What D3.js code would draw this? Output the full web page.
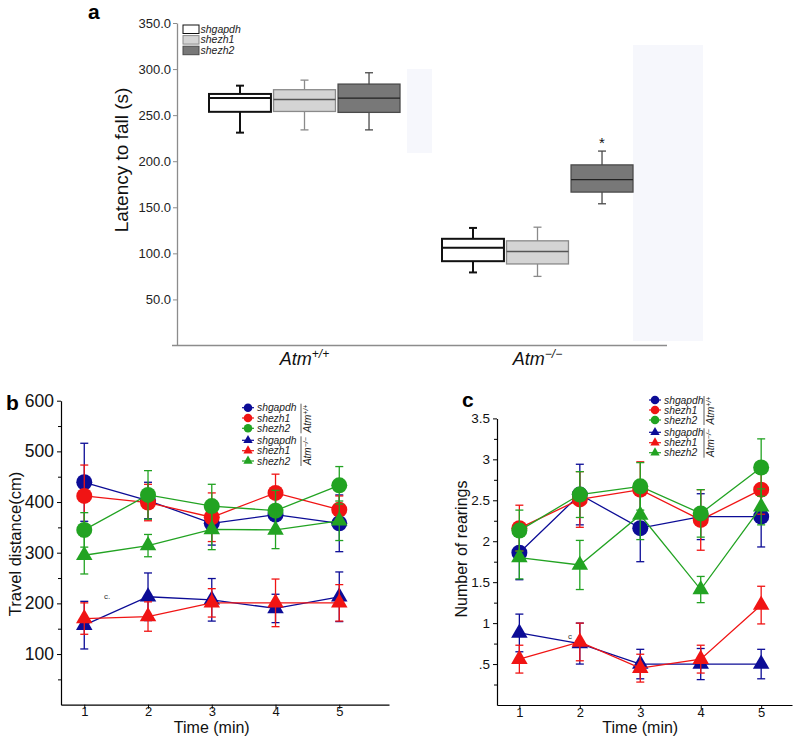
<!DOCTYPE html>
<html>
<head>
<meta charset="utf-8">
<script src="https://cdn.jsdelivr.net/npm/d3@7"></script>
<style>
  body { margin: 0; background: #fff; }
  svg { font-family: "Liberation Sans", Arial, sans-serif; }
</style>
</head>
<body>
<svg id="fig" width="800" height="744"></svg>
<script>
// ---- data ----
const groups = ['Atm+/+', 'Atm-/-'];
const groupSup = ['+/+', '\u2212/\u2212'];
const genes = ['shgapdh', 'shezh1', 'shezh2'];

// latency to fall, boxplots: [whisker low, q1, median, q3, whisker high]
const latencyWt = [[231, 253.6, 268.5, 273, 282], [234, 254, 267, 277.6, 288], [234, 253, 268.5, 283.7, 296]];
const latencyKo = [[79.3, 91.5, 106, 115.8, 127.6], [75, 88.5, 102, 113.6, 128.4], [153.8, 166.5, 180, 196, 211]];
const latencyTicks = [50, 100, 150, 200, 250, 300, 350];

const times = [1, 2, 3, 4, 5];

// travel distance (cm), rows = shgapdh, shezh1, shezh2
const travelWt = [[439, 403, 358, 375, 358], [412, 399, 370, 418, 385], [345, 414, 392, 383, 433]];
const travelWtErr = [[77, 36, 43, 35, 56], [61, 36, 48, 37, 27], [34, 48, 43, 40, 37]];
const travelKo = [[157, 213, 207, 190, 213], [170, 174, 201, 201, 201], [295, 314, 346, 345, 363]];
const travelKoErr = [[47, 47, 42, 28, 49], [31, 29, 28, 47, 36], [37, 22, 40, 37, 39]];
const travelTicks = [100, 200, 300, 400, 500, 600];
const travelMinor = [50, 150, 250, 350, 450, 550];

// number of rearings
const rearWt = [[1.86, 2.57, 2.16, 2.30, 2.30], [2.16, 2.51, 2.63, 2.26, 2.63], [2.13, 2.57, 2.67, 2.34, 2.90]];
const rearWtErr = [[0.33, 0.37, 0.41, 0.28, 0.37], [0.28, 0.34, 0.34, 0.37, 0.30], [0.25, 0.28, 0.29, 0.29, 0.35]];
const rearKo = [[0.88, 0.75, 0.50, 0.50, 0.50], [0.56, 0.77, 0.45, 0.56, 1.22], [1.80, 1.71, 2.32, 1.41, 2.42]];
const rearKoErr = [[0.23, 0.25, 0.18, 0.19, 0.18], [0.17, 0.23, 0.17, 0.17, 0.23], [0.26, 0.30, 0.30, 0.16, 0.22]];
const rearTicks = [0.5, 1, 1.5, 2, 2.5, 3, 3.5];
const rearMinor = [0.25, 0.75, 1.25, 1.75, 2.25, 2.75, 3.25];

const lineColors = ['#0c0c96', '#f01414', '#22a322'];
const boxFill = ['#ffffff', '#d4d4d4', '#787878'];
const boxStroke = ['#111111', '#8a8a8a', '#4a4a4a'];
const boxWidth = [2, 1.3, 1.3];
const medianStroke = ['#111111', '#555555', '#222222'];

const svg = d3.select('#fig');

// ================= panel a =================
// faint scan blotches in the original
svg.append('rect').attr('x', 407).attr('y', 69).attr('width', 25).attr('height', 84).attr('fill', '#f6f7fc');
svg.append('rect').attr('x', 633).attr('y', 45).attr('width', 70).attr('height', 296).attr('fill', '#f6f7fc');

const yA = d3.scaleLinear().domain([0, 350]).range([345.5, 23]);
const xA = d3.scaleBand().domain(groups).range([188, 654]);
const xInner = d3.scaleBand().domain(genes).range([-95.5, 95.5]).paddingInner(0.04);

const axA = svg.append('g')
  .attr('transform', 'translate(177,0)')
  .call(d3.axisLeft(yA).tickValues(latencyTicks).tickSize(4).tickSizeOuter(0).tickPadding(2)
    .tickFormat(d3.format('.1f')));
axA.select('.domain').attr('stroke', '#8c8c8c').attr('stroke-width', 1.3);
axA.selectAll('.tick line').attr('stroke', '#8c8c8c');
axA.selectAll('.tick text').attr('font-size', 13).attr('fill', '#222');

svg.append('line').attr('x1', 172).attr('x2', 667).attr('y1', 345.5).attr('y2', 345.5)
  .attr('stroke', '#8c8c8c').attr('stroke-width', 1.3);

svg.append('text')
  .attr('transform', 'translate(128,160) rotate(-90)')
  .attr('text-anchor', 'middle')
  .attr('font-size', 19)
  .attr('fill', '#111')
  .text('Latency to fall (s)');

groups.forEach((g, gi) => {
  const t = svg.append('text')
    .attr('x', xA(g) + xA.bandwidth() / 2)
    .attr('y', 365)
    .attr('text-anchor', 'middle')
    .attr('font-size', 18)
    .attr('font-style', 'italic')
    .attr('fill', '#111');
  t.append('tspan').text('Atm');
  t.append('tspan').attr('dy', -7).attr('font-size', 12).text(groupSup[gi]);
});

[latencyWt, latencyKo].forEach((set, gi) => {
  const cx0 = xA(groups[gi]) + xA.bandwidth() / 2;
  set.forEach((b, i) => {
    const x0 = cx0 + xInner(genes[i]);
    const w = xInner.bandwidth();
    const xm = x0 + w / 2;
    const g = svg.append('g');
    g.append('line').attr('x1', xm).attr('x2', xm).attr('y1', yA(b[0])).attr('y2', yA(b[4]))
      .attr('stroke', boxStroke[i]).attr('stroke-width', boxWidth[i]);
    [b[0], b[4]].forEach(v => {
      g.append('line').attr('x1', xm - 4).attr('x2', xm + 4).attr('y1', yA(v)).attr('y2', yA(v))
        .attr('stroke', boxStroke[i]).attr('stroke-width', boxWidth[i]);
    });
    g.append('rect').attr('x', x0).attr('y', yA(b[3])).attr('width', w).attr('height', yA(b[1]) - yA(b[3]))
      .attr('fill', boxFill[i]).attr('stroke', boxStroke[i]).attr('stroke-width', boxWidth[i]);
    g.append('line').attr('x1', x0).attr('x2', x0 + w).attr('y1', yA(b[2])).attr('y2', yA(b[2]))
      .attr('stroke', medianStroke[i]).attr('stroke-width', boxWidth[i]);
    if (gi === 1 && i === 2) {
      svg.append('text').attr('x', xm).attr('y', yA(b[4]) - 3).attr('text-anchor', 'middle')
        .attr('font-size', 15).attr('fill', '#111').text('*');
    }
  });
});

// legend a
genes.forEach((name, i) => {
  const y = 25 + i * 10.6;
  svg.append('rect').attr('x', 183).attr('y', y).attr('width', 16).attr('height', 8.5)
    .attr('fill', boxFill[i]).attr('stroke', i === 0 ? '#111' : boxStroke[i]).attr('stroke-width', 1);
  svg.append('text').attr('x', 200.5).attr('y', y + 7.8).attr('font-size', 10.5)
    .attr('font-style', 'italic').attr('fill', '#222').text(name);
});

svg.append('text').attr('x', 88).attr('y', 19).attr('font-size', 21).attr('font-weight', 'bold').text('a');

// ================= line panels =================
function linePanel(p) {
  const g = svg.append('g');
  const ax = g.append('g').attr('transform', `translate(0,${p.y.range()[0]})`)
    .call(d3.axisBottom(p.x).tickValues(times).tickSize(4).tickSizeOuter(0).tickPadding(-1.5)
      .tickFormat(d3.format('d')));
  ax.selectAll('.tick text').attr('font-size', 13).attr('fill', '#111');
  ax.select('.domain').attr('stroke-width', 1.2);

  const ay = g.append('g').attr('transform', `translate(${p.x.range()[0]},0)`)
    .call(d3.axisLeft(p.y).tickValues(p.ticks).tickSize(4).tickSizeOuter(0).tickPadding(3).tickFormat(p.fmt));
  ay.selectAll('.tick text').attr('font-size', p.tickFont).attr('fill', '#111');
  ay.select('.domain').attr('stroke-width', 1.2);
  g.append('g').attr('transform', `translate(${p.x.range()[0]},0)`)
    .call(d3.axisLeft(p.y).tickValues(p.minor).tickSize(3).tickFormat(''))
    .select('.domain').remove();

  g.append('text').attr('x', (p.x(1) + p.x(5)) / 2).attr('y', 733).attr('text-anchor', 'middle')
    .attr('font-size', 16).attr('fill', '#111').text('Time (min)');
  g.append('text').attr('transform', `translate(${p.ylabX},${p.ylabY}) rotate(-90)`)
    .attr('text-anchor', 'middle').attr('font-size', p.ylabFont).attr('fill', '#111').text(p.ylab);

  const line = d3.line().x((d, i) => p.x(times[i])).y(d => p.y(d));
  const sets = [
    { vals: p.wt, errs: p.wtErr, shape: 'circle' },
    { vals: p.ko, errs: p.koErr, shape: 'triangle' }
  ];
  sets.forEach(s => {
    s.vals.forEach((vals, si) => {
      const c = lineColors[si];
      const sg = g.append('g');
      sg.append('path').datum(vals).attr('d', line).attr('fill', 'none')
        .attr('stroke', c).attr('stroke-width', 1.3);
      vals.forEach((v, i) => {
        const x = p.x(times[i]);
        const e = s.errs[si][i];
        sg.append('line').attr('x1', x).attr('x2', x).attr('y1', p.y(v - e)).attr('y2', p.y(v + e))
          .attr('stroke', c).attr('stroke-width', 1.3);
        [v - e, v + e].forEach(w => {
          sg.append('line').attr('x1', x - 4).attr('x2', x + 4).attr('y1', p.y(w)).attr('y2', p.y(w))
            .attr('stroke', c).attr('stroke-width', 1.3);
        });
      });
      vals.forEach((v, i) => {
        const x = p.x(times[i]);
        if (s.shape === 'circle') {
          sg.append('circle').attr('cx', x).attr('cy', p.y(v)).attr('r', 8).attr('fill', c);
        } else {
          sg.append('path').attr('d', d3.symbol().type(d3.symbolTriangle).size(118)())
            .attr('transform', `translate(${x},${p.y(v)})`).attr('fill', c);
        }
      });
    });
  });

  // legend
  const lx = p.legX;
  const rows = p.legRows;
  [0, 1].forEach(k => {
    genes.forEach((name, i) => {
      const y = rows[k * 3 + i];
      const c = lineColors[i];
      g.append('line').attr('x1', lx - 6).attr('x2', lx + 6).attr('y1', y).attr('y2', y)
        .attr('stroke', c).attr('stroke-width', 1.2);
      if (k === 0) {
        g.append('circle').attr('cx', lx).attr('cy', y).attr('r', 4.3).attr('fill', c);
      } else {
        g.append('path').attr('d', d3.symbol().type(d3.symbolTriangle).size(38)())
          .attr('transform', `translate(${lx},${y})`).attr('fill', c);
      }
      g.append('text').attr('x', lx + 9).attr('y', y + 3.6).attr('font-size', 10.3)
        .attr('font-style', 'italic').attr('fill', '#222').text(name);
    });
    const y0 = rows[k * 3] - 4, y1 = rows[k * 3 + 2] + 5;
    g.append('line').attr('x1', p.legBar).attr('x2', p.legBar).attr('y1', y0).attr('y2', y1)
      .attr('stroke', '#333').attr('stroke-width', 0.8);
    const t = g.append('text').attr('transform', `translate(${p.legBar + 10},${(y0 + y1) / 2}) rotate(-90)`)
      .attr('text-anchor', 'middle').attr('font-size', 10).attr('font-style', 'italic').attr('fill', '#222');
    t.append('tspan').text('Atm');
    t.append('tspan').attr('dy', -3.5).attr('font-size', 7).text(groupSup[k]);
  });

  g.append('text').attr('x', p.tagX).attr('y', p.tagY).attr('font-size', 21)
    .attr('font-weight', 'bold').text(p.tag);
  g.append('text').attr('x', p.strayX).attr('y', p.strayY).attr('font-size', 8).attr('fill', '#333').text(p.stray);
}

linePanel({
  x: d3.scaleLinear().domain([0.635, 5.78]).range([61, 389]),
  y: d3.scaleLinear().domain([0, 600]).range([704.7, 400.7]),
  ticks: travelTicks, minor: travelMinor, fmt: d3.format('d'), tickFont: 17.5,
  ylab: 'Travel distance(cm)', ylabX: 21, ylabY: 544, ylabFont: 16.5,
  wt: travelWt, wtErr: travelWtErr, ko: travelKo, koErr: travelKoErr,
  legX: 248, legRows: [407.7, 418, 428.3, 440.3, 450.7, 461], legBar: 301,
  tag: 'b', tagX: 6, tagY: 410, stray: 'c.', strayX: 104, strayY: 599
});

linePanel({
  x: d3.scaleLinear().domain([0.63, 5.51]).range([497, 792]),
  y: d3.scaleLinear().domain([0, 3.5]).range([705, 418.4]),
  ticks: rearTicks, minor: rearMinor, fmt: d => (d < 1 ? '.5' : String(d)), tickFont: 13.5,
  ylab: 'Number of rearings', ylabX: 467, ylabY: 549, ylabFont: 16,
  wt: rearWt, wtErr: rearWtErr, ko: rearKo, koErr: rearKoErr,
  legX: 655, legRows: [400, 410, 420, 432.3, 442.7, 452.7], legBar: 704,
  tag: 'c', tagX: 462, tagY: 407, stray: 'c', strayX: 568, strayY: 639
});
</script>
</body>
</html>
